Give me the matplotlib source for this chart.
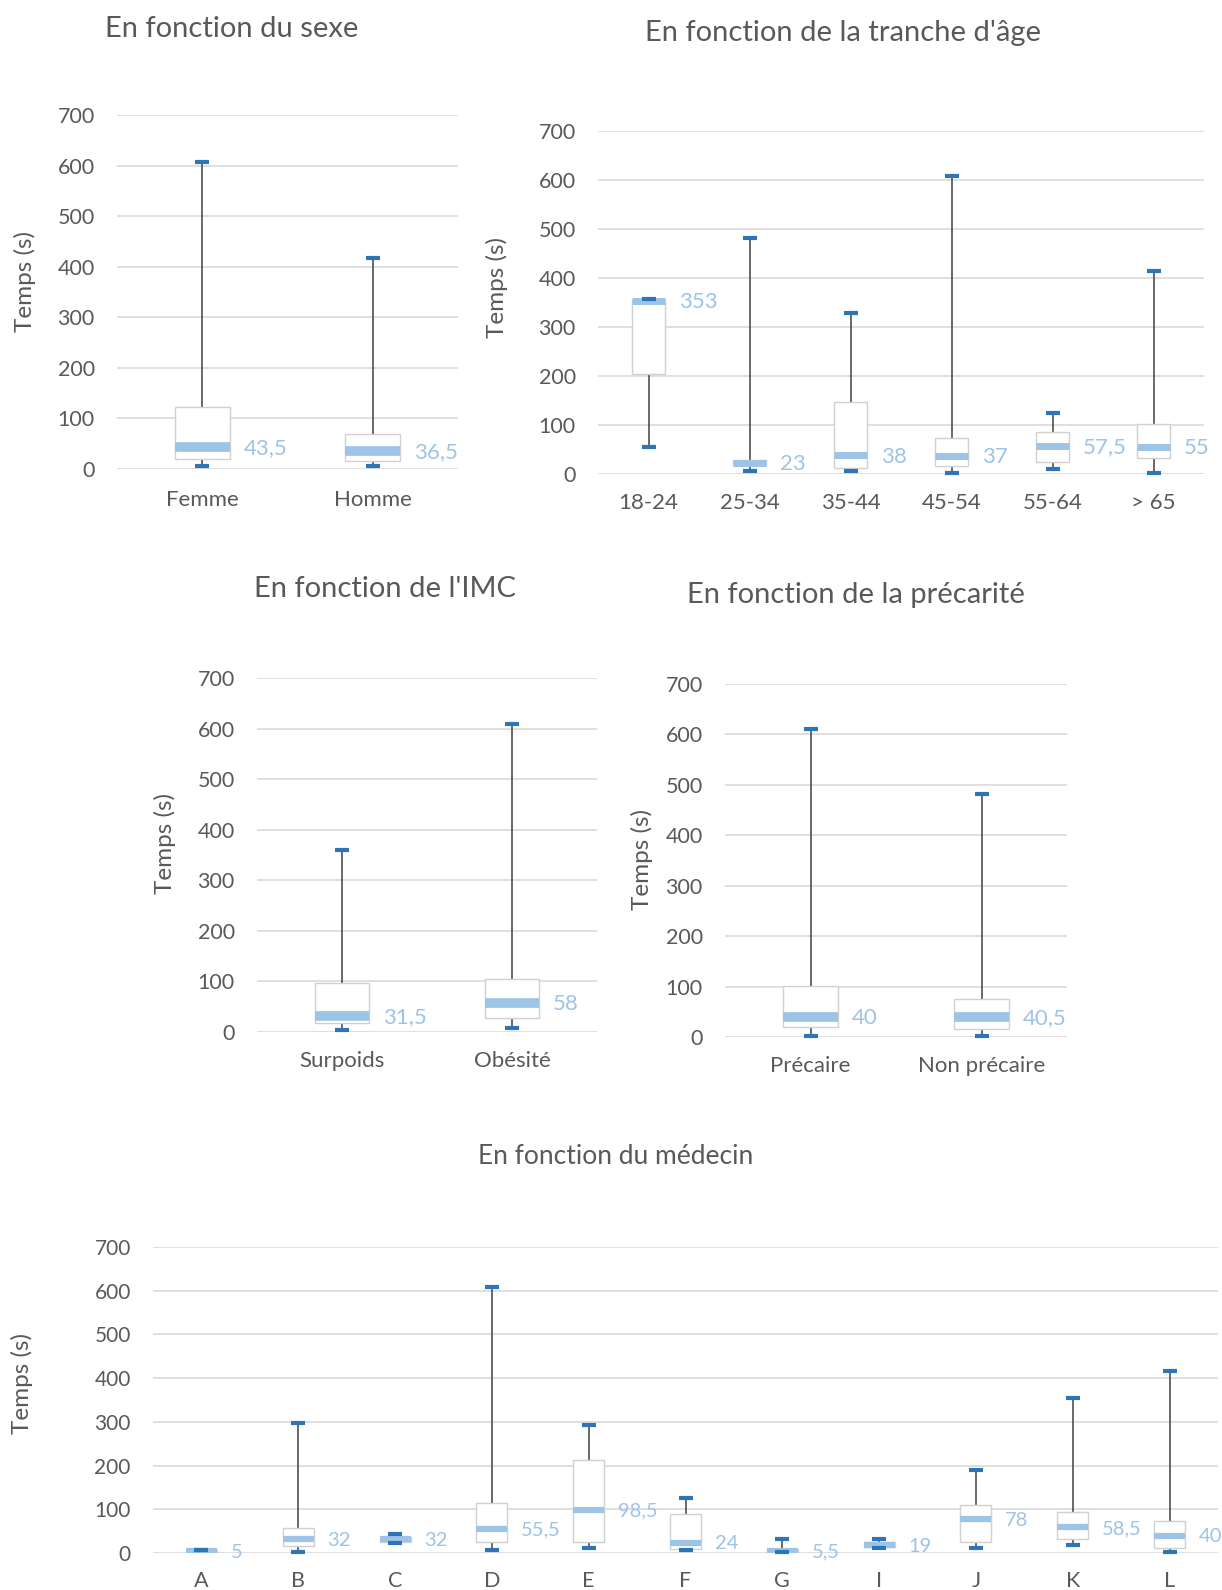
import matplotlib
matplotlib.use("Agg")
import matplotlib.pyplot as plt

plt.rcParams['font.family'] = ['Lato', 'DejaVu Sans']

W, H = 1222, 1590

# --- data ---
sexe_cats = ['Femme', 'Homme']
sexe_min = [5, 5]
sexe_q1 = [20, 15]
sexe_med = [43.5, 36.5]
sexe_q3 = [122, 70]
sexe_max = [607, 417]

age_cats = ['18-24', '25-34', '35-44', '45-54', '55-64', '> 65']
age_min = [55, 7, 7, 3, 10, 3]
age_q1 = [205, 18, 12, 16, 24, 32]
age_med = [353, 23, 38, 37, 57.5, 55]
age_q3 = [355, 28, 147, 73, 86, 103]
age_max = [358, 481, 329, 608, 124, 415]

imc_cats = ['Surpoids', 'Obésité']
imc_min = [3, 7]
imc_q1 = [17, 28]
imc_med = [31.5, 58]
imc_q3 = [96, 104]
imc_max = [360, 610]

prec_cats = ['Précaire', 'Non précaire']
prec_min = [2, 2]
prec_q1 = [20, 16]
prec_med = [40, 40.5]
prec_q3 = [102, 75]
prec_max = [610, 482]

med_cats = ['A', 'B', 'C', 'D', 'E', 'F', 'G', 'I', 'J', 'K', 'L']
med_min = [6, 3, 23, 7, 11, 7, 3, 11, 11, 19, 2]
med_q1 = [2, 17, 25, 26, 26, 9, 2, 14, 26, 32, 12]
med_med = [5, 32, 32, 55.5, 98.5, 24, 5.5, 19, 78, 58.5, 40]
med_q3 = [8, 58, 37, 115, 213, 90, 9, 25, 110, 94, 74]
med_max = [6, 297, 44, 608, 293, 125, 31, 31, 191, 355, 416]

GRID = '#d9d9d9'
TXT = '#595959'
LIGHT = '#9dc3e6'
DARK = '#2e75b6'


def label(v):
    return ('%g' % v).replace('.', ',')


def panel(fig, box, cats, mins, q1, med, q3, maxs, band, fs, mfs, xpad):
    l, t, r, b = box
    ax = fig.add_axes([l / W, 1 - b / H, (r - l) / W, (b - t) / H])
    x = list(range(len(cats)))
    bw = 0.32
    ax.vlines(x, mins, q1, color='#404040', lw=1.1, zorder=1)
    ax.vlines(x, q3, maxs, color='#404040', lw=1.1, zorder=1)
    ax.bar(x, [hi - lo for lo, hi in zip(q1, q3)], bottom=q1, width=bw,
           color='white', edgecolor='#d0d0d0', lw=1.0, zorder=2)
    for xi, m in zip(x, med):
        ax.hlines(m, xi - bw / 2, xi + bw / 2, color=LIGHT, lw=band,
                  zorder=3)
        ax.annotate(label(m), (xi + bw / 2, m), xytext=(10, -1),
                    textcoords='offset points', va='center', ha='left',
                    color=LIGHT, fontsize=mfs, annotation_clip=False)
    ax.plot(x, maxs, ls='none', marker='_', ms=10.5, mew=3, color=DARK,
            zorder=4, clip_on=False)
    ax.plot(x, mins, ls='none', marker='_', ms=10.5, mew=3, color=DARK,
            zorder=4, clip_on=False)
    ax.set_xlim(-0.5, len(cats) - 0.5)
    ax.set_ylim(0, 700)
    ax.set_yticks(range(0, 701, 100))
    ax.set_xticks(x)
    ax.set_xticklabels(cats)
    ax.grid(axis='y', color=GRID, lw=1.2)
    ax.set_axisbelow(True)
    for s in ax.spines.values():
        s.set_visible(False)
    ax.tick_params(axis='y', length=0, pad=16, labelsize=fs, labelcolor=TXT)
    ax.tick_params(axis='x', length=0, pad=xpad, labelsize=fs + 0.5,
                   labelcolor=TXT)
    return ax


fig = plt.figure(figsize=(W / 100, H / 100), dpi=100)

panel(fig, (117, 115, 458, 469), sexe_cats, sexe_min, sexe_q1, sexe_med,
      sexe_q3, sexe_max, 7, 15.5, 16, 15)
panel(fig, (598, 131, 1204, 474), age_cats, age_min, age_q1, age_med,
      age_q3, age_max, 5, 15.5, 16, 14)
panel(fig, (257, 678, 597, 1032), imc_cats, imc_min, imc_q1, imc_med,
      imc_q3, imc_max, 7, 15.5, 16, 14)
panel(fig, (725, 684, 1067, 1037), prec_cats, prec_min, prec_q1, prec_med,
      prec_q3, prec_max, 7, 15.5, 16, 14)
panel(fig, (153, 1247, 1218, 1553), med_cats, med_min, med_q1, med_med,
      med_q3, med_max, 4.5, 15, 14.5, 13)

titles = [('En fonction du sexe', 232, 29, 21),
          ("En fonction de la tranche d'âge", 843, 33, 21),
          ("En fonction de l'IMC", 385, 589, 21),
          ('En fonction de la précarité', 856, 595, 21),
          ('En fonction du médecin', 616, 1156, 19)]
for s, x, y, fs in titles:
    fig.text(x / W, 1 - y / H, s, ha='center', va='center', fontsize=fs,
             color=TXT)

ylabs = [(25, 282), (497, 287), (165, 844), (642, 860), (22, 1384)]
for x, y in ylabs:
    fig.text(x / W, 1 - y / H, 'Temps (s)', rotation=90, ha='center',
             va='center', fontsize=17.5, color=TXT)

fig.savefig('out.png', dpi=100)
